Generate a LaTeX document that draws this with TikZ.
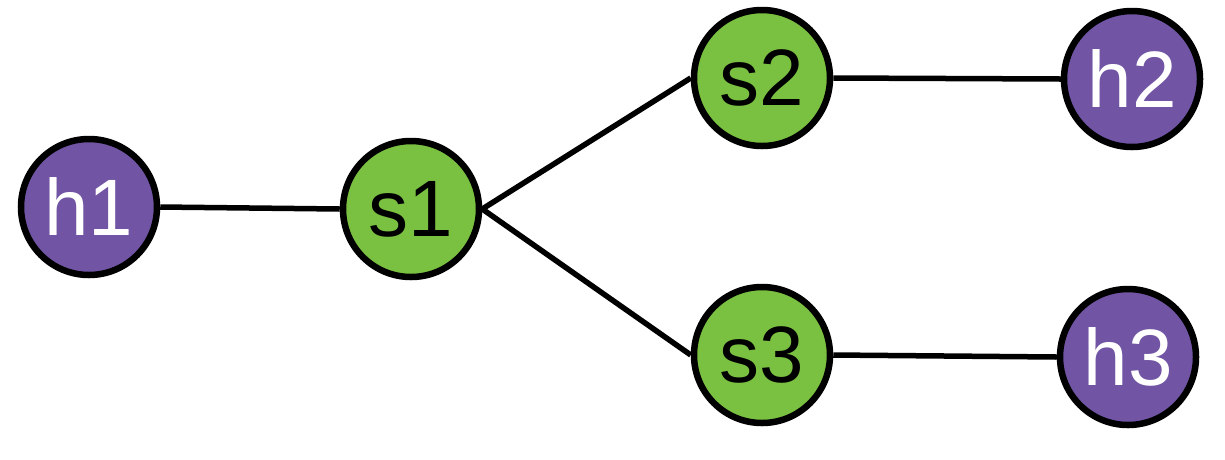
\documentclass[tikz,border=0pt]{standalone}
\usepackage{fontspec}
\setmainfont{Liberation Sans}
\definecolor{sgreen}{HTML}{7AC142}
\definecolor{hpurple}{HTML}{7155A4}
\begin{document}
\begin{tikzpicture}[x=1pt,y=-1pt,
  dev/.style={circle,draw=black,line width=6.5pt,minimum size=136pt,inner sep=0pt,
    font=\fontsize{80}{96}\selectfont},
  sw/.style={dev,fill=sgreen,text=black},
  host/.style={dev,fill=hpurple,text=white},
  link/.style={line width=5.5pt,black}]
\useasboundingbox (0,0) rectangle (1225,459);
\node[host] (h1) at (89,207) {h1};
\node[sw] (s1) at (411,209) {s1};
\node[sw] (s2) at (762,78) {s2};
\node[host] (h2) at (1132,79) {h2};
\node[sw] (s3) at (762,355) {s3};
\node[host] (h3) at (1128,357) {h3};
\draw[link] (h1.east) -- (s1.west);
\draw[link] (s1.east) -- (s2.west);
\draw[link] (s1.east) -- (s3.west);
\draw[link] (s2.east) -- (h2.west);
\draw[link] (s3.east) -- (h3.west);
\end{tikzpicture}
\end{document}
